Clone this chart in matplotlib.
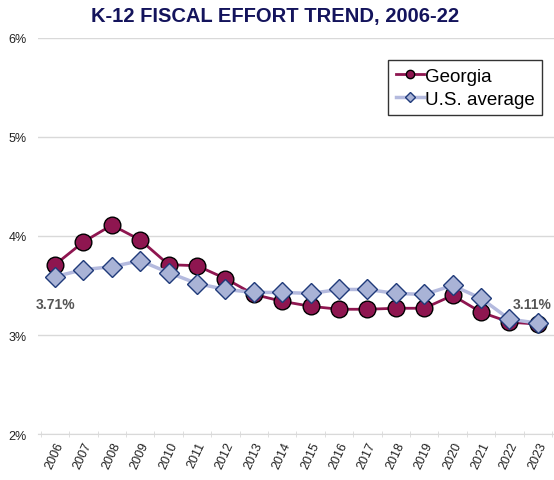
import matplotlib.pyplot as plt
import numpy as np

plt.rcParams['font.family'] = ['Liberation Sans', 'DejaVu Sans']

# data
years = [str(y) for y in range(2006, 2024)]
georgia = [3.71, 3.94, 4.11, 3.96, 3.71, 3.70, 3.57, 3.41, 3.34, 3.29,
           3.26, 3.26, 3.27, 3.27, 3.40, 3.23, 3.13, 3.11]
us_avg = [3.59, 3.66, 3.69, 3.75, 3.63, 3.52, 3.46, 3.43, 3.43, 3.42,
          3.46, 3.46, 3.42, 3.41, 3.50, 3.37, 3.16, 3.12]
yticks = [2, 3, 4, 5, 6]

fig = plt.figure(figsize=(5.54, 4.81), dpi=100)
ax = fig.add_axes([0.0686, 0.0956, 0.9314, 0.8234])

x = np.arange(len(years))
ax.plot(x, georgia, color='#8e1650', lw=2, marker='o', ms=12,
        mfc='#8e1650', mec='black', mew=1, label='Georgia', zorder=3)
ax.plot(x, us_avg, color='#b4bade', lw=2.5, marker='D', ms=10,
        mfc='#a9b3d6', mec='#1f3a7a', mew=1, label='U.S. average', zorder=4)

ax.set_ylim(2, 6)
ax.set_xlim(-0.6, 17.57)
ax.set_yticks(yticks)
ax.set_yticklabels([f'{v}%' for v in yticks], fontsize=9, color='#222222')
ax.yaxis.grid(True, color='#d9d9d9', lw=1)
ax.set_axisbelow(True)
ax.tick_params(axis='y', length=0, pad=8)

ax.set_xticks(x)
ax.set_xticklabels(years, rotation=65, ha='right', va='top', fontsize=9,
                   rotation_mode='anchor', color='#222222')
ax.tick_params(axis='x', length=0, pad=4)
ax.set_xticks(np.arange(-0.5, len(years), 1), minor=True)
ax.tick_params(axis='x', which='minor', length=4, color='#d9d9d9', direction='inout')

for s in ['top', 'right', 'left']:
    ax.spines[s].set_visible(False)
ax.spines['bottom'].set_color('#d9d9d9')

# data labels
ax.annotate(f'{georgia[0]:.2f}%', xy=(x[0], us_avg[0]), xytext=(x[0], 3.31),
            ha='center', va='center', fontsize=10, fontweight='bold', color='#555555',
            arrowprops=dict(arrowstyle='-', color='#aaaaaa', lw=0.8, shrinkA=6, shrinkB=5))
ax.annotate(f'{georgia[-1]:.2f}%', xy=(x[-1], us_avg[-1]), xytext=(x[-1] - 0.2, 3.31),
            ha='center', va='center', fontsize=10, fontweight='bold', color='#555555',
            annotation_clip=False,
            arrowprops=dict(arrowstyle='-', color='#aaaaaa', lw=0.8, shrinkA=6, shrinkB=5))

leg = ax.legend(loc='upper right', bbox_to_anchor=(0.977, 0.944), fontsize=13.5,
                frameon=True, fancybox=False, edgecolor='black', handlelength=1.5,
                handletextpad=0.05, borderpad=0.4, labelspacing=0.3, markerscale=0.5,
                borderaxespad=0)
leg.get_frame().set_linewidth(1)

fig.suptitle('K-12 FISCAL EFFORT TREND, 2006-22', x=0.497, y=0.985,
             fontsize=14.5, fontweight='bold', color='#14145c')

fig.savefig('out.png', dpi=100)
